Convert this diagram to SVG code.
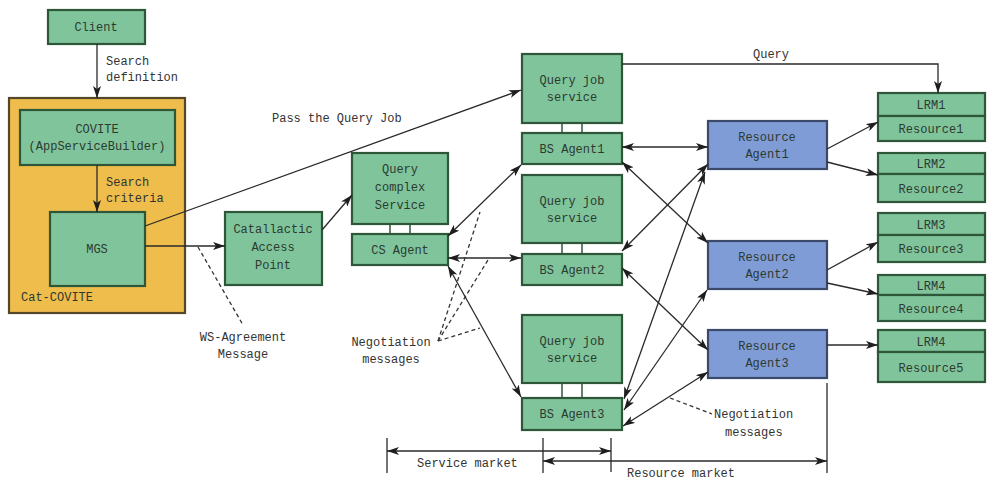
<svg xmlns="http://www.w3.org/2000/svg" width="987" height="480" viewBox="0 0 987 480">
  <defs>
    <marker id="ah" viewBox="0 0 12 8" refX="12" refY="4" markerWidth="12" markerHeight="8" markerUnits="userSpaceOnUse" orient="auto-start-reverse">
      <path d="M0,0 L12,4 L0,8 L3,4 z" fill="#1e1e1e"/>
    </marker>
    <style>
      .g { fill: #80c49c; stroke: #2e5638; stroke-width: 2.2; }
      .b { fill: #7f9cd6; stroke: #3b4a6a; stroke-width: 2.2; }
      .o { fill: #eebd4c; stroke: #55482a; stroke-width: 2.2; }
      .bar { stroke: #2e5638; stroke-width: 1.5; }
      text { font-family: "Liberation Mono", "DejaVu Sans Mono", monospace; font-size: 12px; fill: #2c3a30; text-anchor: middle; }
      .lbl { fill: #333; }
      .l { text-anchor: start; }
      .ln { fill: none; stroke: #2a2a2a; stroke-width: 1.3; }
      .a { marker-end: url(#ah); }
      .aa { marker-start: url(#ah); marker-end: url(#ah); }
      .d { fill: none; stroke: #333; stroke-width: 1.3; stroke-dasharray: 4 3; }
    </style>
  </defs>

  <!-- client side -->
  <g id="client">
    <rect class="g" x="48" y="10" width="97" height="34"/>
    <text x="96" y="31">Client</text>
  </g>

  <g id="cat-covite">
    <rect class="o" x="9" y="98" width="176" height="215"/>
    <text class="l" x="21" y="301" fill="#4a3c1a">Cat-COVITE</text>
  </g>

  <g id="covite">
    <rect class="g" x="20" y="110" width="155" height="55"/>
    <text x="97" y="133">COVITE</text>
    <text x="97" y="150">(AppServiceBuilder)</text>
  </g>

  <g id="mgs">
    <rect class="g" x="50" y="212" width="95" height="74"/>
    <text x="97" y="253">MGS</text>
  </g>

  <g id="cap">
    <rect class="g" x="225" y="212" width="97" height="73"/>
    <text x="273" y="233">Catallactic</text>
    <text x="273" y="251">Access</text>
    <text x="273" y="269">Point</text>
  </g>

  <!-- service market -->
  <g id="qcs">
    <rect class="g" x="352" y="153" width="96" height="71"/>
    <text x="400" y="173">Query</text>
    <text x="400" y="191">complex</text>
    <text x="400" y="209">Service</text>
  </g>
  <g id="cs-agent">
    <line class="bar" x1="390" y1="224" x2="390" y2="234"/>
    <line class="bar" x1="410" y1="224" x2="410" y2="234"/>
    <rect class="g" x="352" y="234" width="96" height="31"/>
    <text x="400" y="254">CS Agent</text>
  </g>

  <g id="qjs1">
    <rect class="g" x="522" y="54" width="100" height="69"/>
    <text x="572" y="84">Query job</text>
    <text x="572" y="101">service</text>
  </g>
  <g id="bs-agent1">
    <line class="bar" x1="562" y1="123" x2="562" y2="133"/>
    <line class="bar" x1="582" y1="123" x2="582" y2="133"/>
    <rect class="g" x="522" y="133" width="100" height="31"/>
    <text x="572" y="153">BS Agent1</text>
  </g>

  <g id="qjs2">
    <rect class="g" x="522" y="175" width="100" height="68"/>
    <text x="572" y="205">Query job</text>
    <text x="572" y="222">service</text>
  </g>
  <g id="bs-agent2">
    <line class="bar" x1="562" y1="243" x2="562" y2="254"/>
    <line class="bar" x1="582" y1="243" x2="582" y2="254"/>
    <rect class="g" x="522" y="254" width="100" height="31"/>
    <text x="572" y="274">BS Agent2</text>
  </g>

  <g id="qjs3">
    <rect class="g" x="522" y="315" width="100" height="68"/>
    <text x="572" y="345">Query job</text>
    <text x="572" y="362">service</text>
  </g>
  <g id="bs-agent3">
    <line class="bar" x1="562" y1="383" x2="562" y2="398"/>
    <line class="bar" x1="582" y1="383" x2="582" y2="398"/>
    <rect class="g" x="522" y="398" width="100" height="32"/>
    <text x="572" y="418">BS Agent3</text>
  </g>

  <!-- resource market -->
  <g id="ra1">
    <rect class="b" x="708" y="121" width="119" height="48"/>
    <text x="767" y="141" fill="#2d3550">Resource</text>
    <text x="767" y="158" fill="#2d3550">Agent1</text>
  </g>
  <g id="ra2">
    <rect class="b" x="708" y="241" width="119" height="48"/>
    <text x="767" y="261" fill="#2d3550">Resource</text>
    <text x="767" y="278" fill="#2d3550">Agent2</text>
  </g>
  <g id="ra3">
    <rect class="b" x="708" y="330" width="119" height="48"/>
    <text x="767" y="350" fill="#2d3550">Resource</text>
    <text x="767" y="367" fill="#2d3550">Agent3</text>
  </g>

  <g id="lrm1">
    <rect class="g" x="878" y="93" width="107" height="23"/>
    <rect class="g" x="878" y="116" width="107" height="25"/>
    <text x="931" y="109">LRM1</text>
    <text x="931" y="133">Resource1</text>
  </g>
  <g id="lrm2">
    <rect class="g" x="878" y="153" width="107" height="21"/>
    <rect class="g" x="878" y="174" width="107" height="28"/>
    <text x="931" y="168">LRM2</text>
    <text x="931" y="193">Resource2</text>
  </g>
  <g id="lrm3">
    <rect class="g" x="878" y="213" width="107" height="22"/>
    <rect class="g" x="878" y="235" width="107" height="27"/>
    <text x="931" y="229">LRM3</text>
    <text x="931" y="253">Resource3</text>
  </g>
  <g id="lrm4">
    <rect class="g" x="878" y="275" width="107" height="20"/>
    <rect class="g" x="878" y="295" width="107" height="26"/>
    <text x="931" y="290">LRM4</text>
    <text x="931" y="313">Resource4</text>
  </g>
  <g id="lrm5">
    <rect class="g" x="878" y="330" width="107" height="22"/>
    <rect class="g" x="878" y="352" width="107" height="30"/>
    <text x="931" y="346">LRM4</text>
    <text x="931" y="372">Resource5</text>
  </g>

  <!-- connectors -->
  <g id="connectors">
    <line class="ln a" x1="97" y1="44" x2="97" y2="98"/>
    <line class="ln a" x1="97" y1="165" x2="97" y2="212"/>
    <line class="ln a" x1="145" y1="246" x2="225" y2="246"/>
    <line class="ln a" x1="145" y1="226" x2="521" y2="90"/>
    <line class="ln a" x1="322" y1="230" x2="352" y2="195"/>
    <polyline class="ln a" points="622,64 938,64 938,93"/>

    <line class="ln aa" x1="448" y1="236" x2="521" y2="165"/>
    <line class="ln aa" x1="448" y1="258" x2="521" y2="258"/>
    <line class="ln aa" x1="448" y1="266" x2="521" y2="397"/>

    <line class="ln aa" x1="622" y1="147" x2="708" y2="147"/>
    <line class="ln aa" x1="622" y1="162" x2="708" y2="243"/>
    <line class="ln aa" x1="708" y1="164" x2="622" y2="251"/>
    <line class="ln aa" x1="622" y1="268" x2="708" y2="350"/>
    <line class="ln aa" x1="705" y1="172" x2="624" y2="399"/>
    <line class="ln aa" x1="707" y1="290" x2="624" y2="410"/>
    <line class="ln aa" x1="708" y1="372" x2="623" y2="426"/>

    <line class="ln a" x1="827" y1="149" x2="878" y2="122"/>
    <line class="ln a" x1="827" y1="162" x2="878" y2="175"/>
    <line class="ln a" x1="827" y1="270" x2="878" y2="242"/>
    <line class="ln a" x1="827" y1="283" x2="878" y2="294"/>
    <line class="ln a" x1="827" y1="345" x2="878" y2="345"/>

    <!-- message callouts -->
    <line class="d" x1="198" y1="247" x2="243" y2="325"/>
    <line class="d" x1="438" y1="341" x2="480" y2="212"/>
    <line class="d" x1="438" y1="341" x2="488" y2="260"/>
    <line class="d" x1="438" y1="341" x2="480" y2="328"/>
    <line class="d" x1="670" y1="398" x2="712" y2="414"/>

    <!-- market spans -->
    <line class="ln" x1="387" y1="438" x2="387" y2="473"/>
    <line class="ln" x1="543" y1="438" x2="543" y2="473"/>
    <line class="ln" x1="611" y1="438" x2="611" y2="472"/>
    <line class="ln" x1="827" y1="383" x2="827" y2="473"/>
    <line class="ln aa" x1="387" y1="451" x2="611" y2="451"/>
    <line class="ln aa" x1="543" y1="461" x2="827" y2="461"/>
  </g>

  <!-- labels -->
  <g id="labels">
    <text class="l lbl" x="106" y="65">Search</text>
    <text class="l lbl" x="106" y="81">definition</text>
    <text class="l lbl" x="106" y="186">Search</text>
    <text class="l lbl" x="106" y="202">criteria</text>
    <text class="l lbl" x="272" y="122">Pass the Query Job</text>
    <text class="lbl" x="771" y="58">Query</text>
    <text class="lbl" x="243" y="341">WS-Agreement</text>
    <text class="lbl" x="243" y="358">Message</text>
    <text class="lbl" x="391" y="346">Negotiation</text>
    <text class="lbl" x="391" y="363">messages</text>
    <text class="l lbl" x="714" y="418">Negotiation</text>
    <text class="l lbl" x="725" y="436">messages</text>
    <text class="l lbl" x="417" y="467">Service market</text>
    <text class="l lbl" x="627" y="477">Resource market</text>
  </g>
</svg>
